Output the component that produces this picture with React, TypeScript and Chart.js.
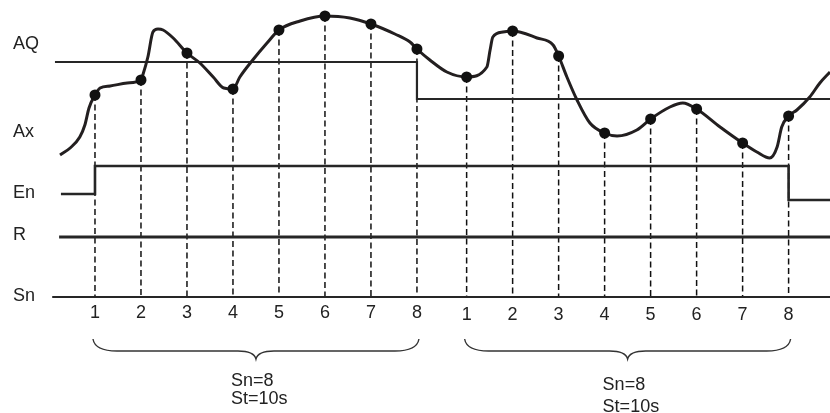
import React, { useEffect, useRef } from 'react';
import { Chart, registerables } from 'chart.js';

Chart.register(...registerables);

// ---- data (time in sample periods, signal level in arbitrary units) ----
const sampleLabels = ['1', '2', '3', '4', '5', '6', '7', '8'];
const sampleTimes1 = [1, 2, 3, 4, 5, 6, 7, 8];
const sampleTimes2 = [9.08, 10.08, 11.08, 12.08, 13.08, 14.08, 15.08, 16.08];
const sampleValues1 = [101, 108.5, 122, 104, 133.5, 140.5, 136.5, 124];
const sampleValues2 = [110, 133, 120.5, 82, 89, 94, 77, 90.5];

const axTimes = [
  0.24, 0.46, 0.67, 0.78, 0.87, 1, 1.11, 1.33, 1.7, 2, 2.04, 2.15, 2.26, 2.37, 2.48, 2.7, 3,
  3.28, 3.57, 3.8, 4, 4.15, 4.43, 4.74, 5, 5.46, 6, 6.54, 7, 7.52, 7.85, 8, 8.28, 8.65, 9.08,
  9.52, 9.59, 9.65, 9.87, 10.08, 10.61, 10.96, 11.08, 11.26, 11.48, 11.76, 12.08, 12.35,
  12.78, 13.08, 13.5, 13.78, 14.08, 14.59, 15.08, 15.39, 15.67, 15.83, 15.93, 16.08, 16.26,
  16.54, 16.76, 16.98,
];
const axValues = [
  71, 74.5, 80, 86, 94.5, 101, 104.5, 105.5, 107, 108.5, 111, 120, 132.5, 134, 133.5, 129.5, 122,
  117, 110, 104.5, 104, 110, 118.5, 127, 133.5, 138, 140.5, 139.5, 136.5, 131.5, 127.5, 124,
  118.5, 112.5, 110, 115, 123.5, 130, 132.5, 133, 129.5, 126, 120.5, 110, 98.5, 87, 82, 80.5,
  83.5, 89, 95, 97, 94, 85, 77, 72.5, 69.5, 75, 85, 90.5, 93.5, 100, 107, 112.5,
];

const aqTimes = [0.13, 8, 8, 16.98];
const aqValues = [117.5, 117.5, 99, 99];
const enTimes = [0.26, 1, 1, 16.08, 16.08, 16.98];
const enValues = [51.5, 51.5, 65.5, 65.5, 48.5, 48.5];
const rTimes = [0.22, 16.98];
const rValues = [30, 30];
const snTimes = [0.07, 16.98];
const snValues = [0, 0];

const rowLabels = ['AQ', 'Ax', 'En', 'R', 'Sn'];
const groupTexts = ['Sn=8', 'St=10s'];

const pts = (xs: number[], ys: number[]) => xs.map((x, i) => ({ x, y: ys[i] }));

const INK = '#262626';
const FONT = '18px "Liberation Sans", Arial, sans-serif';

// layout constants for annotations (in axis units)
const rowLabelX = -0.78;
const rowLabelY = [124.25, 80.25, 49.75, 28.75, -1.75];
const tickLabelY = [-10.5, -11.5];
const braceTop = -21;
const braceMid = -27;
const braceTip = -31;
const groupTextY = [
  [-44.25, -53.25],
  [-46.25, -57.25],
];

const annotations = {
  id: 'annotations',
  afterDatasetsDraw(chart: any) {
    const ctx = chart.ctx;
    const xs = chart.scales.x;
    const ys = chart.scales.y;
    const X = (v: number) => xs.getPixelForValue(v);
    const Y = (v: number) => ys.getPixelForValue(v);
    ctx.save();
    ctx.fillStyle = '#222';
    ctx.font = FONT;
    ctx.textBaseline = 'alphabetic';
    ctx.textAlign = 'left';
    rowLabels.forEach((t, i) => ctx.fillText(t, X(rowLabelX), Y(rowLabelY[i])));

    ctx.textAlign = 'center';
    [sampleTimes1, sampleTimes2].forEach((times, g) => {
      times.forEach((t, i) => ctx.fillText(sampleLabels[i], X(t), Y(tickLabelY[g])));
    });

    // braces
    ctx.strokeStyle = '#333';
    ctx.lineWidth = 1.4;
    [sampleTimes1, sampleTimes2].forEach((times, g) => {
      const L = X(times[0]) - 2;
      const R = X(times[times.length - 1]) + 2;
      const C = (L + R) / 2;
      const top = Y(braceTop);
      const mid = Y(braceMid);
      const tip = Y(braceTip);
      ctx.beginPath();
      ctx.moveTo(L, top);
      ctx.quadraticCurveTo(L + 2, mid, L + 24, mid);
      ctx.lineTo(C - 18, mid);
      ctx.quadraticCurveTo(C - 2, mid, C, tip);
      ctx.quadraticCurveTo(C + 2, mid, C + 18, mid);
      ctx.lineTo(R - 24, mid);
      ctx.quadraticCurveTo(R - 2, mid, R, top);
      ctx.stroke();

      ctx.textAlign = 'left';
      groupTexts.forEach((txt, k) => {
        ctx.fillText(txt, C - 25, Y(groupTextY[g][k]));
      });
    });
    ctx.restore();
  },
};

export default function App() {
  const ref = useRef<HTMLCanvasElement | null>(null);

  useEffect(() => {
    if (!ref.current) return;
    const sampleTimes = [...sampleTimes1, ...sampleTimes2];
    const sampleValues = [...sampleValues1, ...sampleValues2];

    const dashed = sampleTimes.map((t, i) => ({
      type: 'line' as const,
      data: [
        { x: t, y: sampleValues[i] },
        { x: t, y: 0 },
      ],
      borderColor: '#111',
      borderWidth: 1.5,
      borderDash: [6, 3.5],
      pointRadius: 0,
      order: 5,
    }));

    const step = (xs: number[], ys: number[], w: number) => ({
      type: 'line' as const,
      data: pts(xs, ys),
      borderColor: INK,
      borderWidth: w,
      pointRadius: 0,
      tension: 0,
      order: 4,
    });

    const chart = new Chart(ref.current, {
      type: 'scatter',
      data: {
        datasets: [
          {
            type: 'scatter',
            data: pts(sampleTimes, sampleValues),
            pointRadius: 5.5,
            pointBackgroundColor: '#111',
            pointBorderColor: '#111',
            borderWidth: 0,
            order: 0,
          } as any,
          {
            type: 'line',
            data: pts(axTimes, axValues),
            borderColor: '#231f20',
            borderWidth: 3,
            pointRadius: 0,
            cubicInterpolationMode: 'monotone',
            order: 1,
          },
          step(aqTimes, aqValues, 2.2),
          step(enTimes, enValues, 2.6),
          step(rTimes, rValues, 3),
          step(snTimes, snValues, 1.8),
          ...dashed,
        ] as any,
      },
      options: {
        animation: false,
        responsive: false,
        maintainAspectRatio: false,
        devicePixelRatio: 1,
        layout: { padding: 0, autoPadding: false },
        plugins: { legend: { display: false }, tooltip: { enabled: false } },
        events: [],
        scales: {
          x: { type: 'linear', min: -1.065, max: 16.98, display: false },
          y: { type: 'linear', min: -58, max: 148.5, display: false },
        },
      },
      plugins: [annotations],
    });
    return () => chart.destroy();
  }, []);

  return (
    <div style={{ position: 'fixed', left: 0, top: 0, width: 830, height: 413, background: '#fff' }}>
      <canvas ref={ref} width={830} height={413} style={{ display: 'block', width: 830, height: 413 }} />
    </div>
  );
}
